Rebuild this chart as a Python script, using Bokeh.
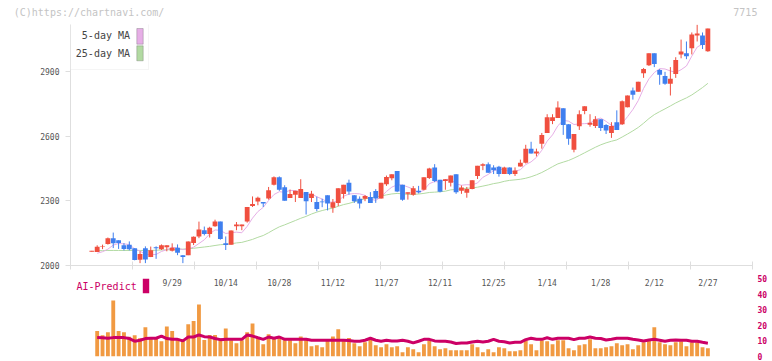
from bokeh.plotting import figure
from bokeh.models import (Range1d, FixedTicker, Label, BoxAnnotation,
                          ColumnDataSource, LinearAxis)
from bokeh.layouts import column
from bokeh.embed import file_html
from bokeh.resources import INLINE

# ---------------- data ----------------
open_ = [2064, 2063, 2088, 2100, 2127, 2117, 2094, 2097, 2080, 2027,
         2080, 2039, 2085, 2076, 2085, 2068, 2083, 2048, 2048, 2104,
         2135, 2164, 2146, 2182, 2204, 2103, 2097, 2182, 2182, 2204,
         2277, 2297, 2295, 2311, 2375, 2410, 2364, 2314, 2329, 2314,
         2341, 2314, 2295, 2298, 2326, 2268, 2291, 2332, 2384, 2327,
         2310, 2310, 2318, 2346, 2311, 2378, 2405, 2439, 2375, 2334,
         2329, 2347, 2352, 2407, 2456, 2398, 2393, 2384, 2424, 2347,
         2338, 2356, 2416, 2463, 2471, 2456, 2459, 2425, 2456, 2425,
         2460, 2478, 2543, 2521, 2566, 2616, 2671, 2686, 2731, 2657,
         2538, 2647, 2718, 2654, 2648, 2680, 2653, 2616, 2666, 2657,
         2735, 2813, 2808, 2894, 2931, 2986, 2909, 2881, 2845, 2890,
         2981, 2986, 3010, 3069, 3069, 2996]
high = [2068, 2094, 2097, 2130, 2153, 2117, 2104, 2112, 2080, 2066,
        2089, 2088, 2089, 2098, 2094, 2103, 2098, 2048, 2112, 2135,
        2204, 2181, 2180, 2213, 2204, 2135, 2163, 2202, 2190, 2272,
        2321, 2320, 2295, 2365, 2414, 2414, 2373, 2353, 2347, 2401,
        2341, 2347, 2320, 2310, 2326, 2309, 2359, 2375, 2399, 2327,
        2321, 2327, 2341, 2355, 2384, 2418, 2424, 2439, 2375, 2340,
        2369, 2370, 2410, 2454, 2471, 2398, 2401, 2418, 2424, 2372,
        2365, 2396, 2463, 2475, 2479, 2466, 2463, 2459, 2456, 2456,
        2492, 2561, 2575, 2543, 2616, 2703, 2703, 2763, 2731, 2657,
        2611, 2721, 2740, 2703, 2694, 2680, 2657, 2666, 2721, 2767,
        2790, 2827, 2854, 2918, 2986, 2986, 2913, 2900, 2922, 2968,
        3050, 3041, 3083, 3119, 3083, 3101]
low = [2064, 2063, 2076, 2097, 2081, 2077, 2070, 2070, 2024, 2011,
       2011, 2039, 2031, 2072, 2066, 2065, 2048, 2011, 2048, 2095,
       2127, 2140, 2130, 2180, 2120, 2072, 2097, 2164, 2164, 2199,
       2272, 2280, 2272, 2306, 2372, 2347, 2301, 2314, 2295, 2314,
       2237, 2295, 2252, 2271, 2256, 2245, 2276, 2311, 2329, 2291,
       2265, 2299, 2291, 2291, 2311, 2370, 2396, 2341, 2301, 2306,
       2324, 2335, 2349, 2402, 2387, 2340, 2352, 2367, 2333, 2333,
       2315, 2354, 2402, 2443, 2431, 2425, 2413, 2425, 2420, 2416,
       2460, 2474, 2520, 2507, 2543, 2616, 2657, 2686, 2607, 2561,
       2526, 2630, 2703, 2645, 2639, 2625, 2611, 2593, 2630, 2653,
       2735, 2771, 2808, 2872, 2927, 2922, 2840, 2840, 2790, 2872,
       2963, 2959, 2981, 3041, 3006, 2993]
close = [2068, 2087, 2091, 2127, 2103, 2104, 2077, 2076, 2025, 2053,
         2028, 2071, 2080, 2094, 2094, 2082, 2059, 2039, 2112, 2134,
         2167, 2146, 2176, 2204, 2123, 2095, 2163, 2190, 2190, 2272,
         2286, 2315, 2288, 2350, 2410, 2352, 2301, 2332, 2347, 2355,
         2299, 2333, 2263, 2294, 2288, 2294, 2359, 2375, 2344, 2299,
         2288, 2323, 2291, 2311, 2384, 2411, 2424, 2344, 2306, 2340,
         2359, 2340, 2410, 2451, 2393, 2343, 2401, 2418, 2340, 2363,
         2356, 2396, 2463, 2471, 2431, 2443, 2425, 2456, 2425, 2442,
         2478, 2543, 2520, 2530, 2607, 2689, 2689, 2734, 2653, 2589,
         2611, 2703, 2740, 2663, 2680, 2639, 2627, 2648, 2630, 2763,
         2790, 2794, 2854, 2913, 2986, 2936, 2886, 2845, 2868, 2955,
         2995, 2973, 3074, 3078, 3025, 3101]

# 5-day and 25-day moving averages (from the 2nd session on)
ma5 = [2057, 2064, 2076, 2094.8, 2102.4, 2100.4, 2097.4, 2077.0, 2067.0, 2051.8,
       2050.6, 2051.4, 2065.2, 2073.4, 2084.2, 2081.8, 2073.6, 2077.2, 2085.2, 2102.2,
       2119.6, 2147.0, 2165.4, 2163.2, 2148.8, 2152.2, 2155.0, 2152.2, 2182.0, 2220.2,
       2250.6, 2270.2, 2302.2, 2329.8, 2343.0, 2340.2, 2349.0, 2348.4, 2337.4, 2326.8,
       2333.2, 2319.4, 2308.8, 2295.4, 2294.4, 2299.6, 2322.0, 2332.0, 2334.2, 2333.0,
       2325.8, 2309.0, 2302.4, 2319.4, 2344.0, 2364.2, 2374.8, 2373.8, 2365.0, 2354.6,
       2337.8, 2351.0, 2380.0, 2390.6, 2387.4, 2399.6, 2401.2, 2379.0, 2373.0, 2375.6,
       2374.6, 2383.6, 2409.8, 2423.4, 2440.8, 2446.6, 2445.2, 2436.0, 2438.2, 2445.2,
       2468.8, 2481.6, 2502.6, 2535.6, 2577.8, 2607.0, 2649.8, 2674.4, 2670.8, 2655.2,
       2658.0, 2659.2, 2661.2, 2679.4, 2685.0, 2669.8, 2651.4, 2644.8, 2661.4, 2691.6,
       2725.0, 2766.2, 2822.8, 2867.4, 2896.6, 2915.0, 2913.2, 2904.2, 2898.0, 2909.8,
       2927.2, 2973.0, 3015.0, 3029.0, 3050.2]
ma25 = [2069, 2069, 2070, 2070, 2070, 2070, 2070, 2070, 2070, 2070,
        2070, 2071, 2072, 2073, 2074, 2075, 2076, 2078, 2080, 2083,
        2086, 2089, 2093, 2096.7, 2097.9, 2100.9, 2104.9, 2107.4, 2114.2, 2121.4,
        2131.0, 2139.4, 2152.4, 2166.7, 2179.7, 2188.9, 2199.0, 2209.1, 2219.5, 2228.2,
        2239.2, 2248.1, 2255.4, 2261.6, 2266.6, 2275.2, 2283.1, 2288.7, 2295.8, 2303.5,
        2309.9, 2313.9, 2318.8, 2323.2, 2328.2, 2332.6, 2334.8, 2333.1, 2330.3, 2330.6,
        2332.1, 2335.2, 2339.4, 2340.9, 2342.7, 2345.4, 2351.6, 2353.4, 2356.4, 2358.9,
        2360.4, 2363.9, 2369.0, 2374.3, 2380.5, 2384.6, 2391.2, 2395.7, 2398.0, 2400.7,
        2405.5, 2412.5, 2421.5, 2432.2, 2445.4, 2459.3, 2472.3, 2480.4, 2488.2, 2498.9,
        2511.0, 2523.9, 2536.8, 2549.5, 2560.8, 2570.0, 2577.4, 2583.8, 2597.1, 2611.0,
        2625.7, 2641.6, 2661.2, 2682.9, 2701.2, 2715.0, 2728.0, 2741.5, 2755.4, 2767.6,
        2779.0, 2792.6, 2809.6, 2827.0, 2846.6]

# volume-like bars and AI-Predict line (lower panel, from the 2nd session on)
vol = [16.3, 13.6, 15.5, 35.9, 16.3, 15.5, 12.7, 13.6, 11.7, 18.7,
       11.7, 11.7, 9.7, 19.3, 16.3, 11.7, 10.8, 20.6, 22.7, 33.3,
       10.6, 13.8, 13.8, 11.7, 18.0, 10.4, 8.5, 10.4, 15.5, 21.2,
       12.1, 7.8, 14.2, 11.5, 12.9, 10.4, 10.4, 8.5, 12.9, 11.0,
       6.6, 7.2, 5.9, 9.9, 12.9, 17.4, 10.4, 11.8, 8.5, 6.6,
       9.1, 11.7, 7.2, 5.9, 7.8, 5.9, 6.6, 2.7, 5.9, 4.6,
       2.7, 7.8, 10.4, 6.6, 4.6, 5.3, 4.0, 4.0, 4.0, 4.0,
       7.8, 5.9, 2.7, 4.6, 2.7, 5.9, 5.3, 3.4, 3.4, 4.0,
       10.4, 7.8, 4.0, 10.4, 9.7, 7.8, 10.4, 10.4, 5.3, 4.0,
       7.2, 7.8, 11.0, 5.3, 5.3, 5.9, 6.6, 8.5, 7.2, 7.8,
       4.6, 7.2, 9.1, 10.4, 18.7, 9.1, 7.8, 7.2, 9.1, 9.7,
       6.6, 9.1, 9.1, 5.9, 5.3]
ai = [12.1, 12.0, 11.7, 12.1, 12.1, 12.1, 11.5, 9.8, 10.4, 11.5,
      11.7, 11.7, 13.1, 11.5, 11.0, 11.0, 10.0, 12.5, 12.5, 13.8,
      12.7, 12.5, 11.5, 10.8, 11.0, 11.0, 11.0, 11.0, 13.8, 13.1,
      12.0, 11.0, 12.5, 11.7, 12.5, 11.0, 11.0, 11.0, 11.0, 11.0,
      10.4, 10.4, 10.4, 10.4, 10.4, 10.4, 10.4, 10.2, 9.8, 9.8,
      10.4, 11.7, 10.4, 9.8, 10.4, 10.0, 10.0, 10.4, 9.8, 8.7,
      9.8, 11.0, 11.0, 10.0, 9.8, 9.8, 9.3, 8.3, 8.7, 8.7,
      9.3, 9.8, 9.3, 9.8, 11.0, 9.8, 9.5, 8.7, 9.1, 9.1,
      10.8, 11.7, 11.0, 11.0, 12.0, 11.0, 11.7, 11.7, 11.7, 10.8,
      11.7, 11.7, 12.5, 11.7, 11.5, 10.6, 11.0, 11.7, 11.7, 11.7,
      11.0, 10.6, 10.0, 10.6, 11.0, 10.4, 9.8, 10.4, 10.6, 10.4,
      10.4, 9.8, 9.8, 9.1, 8.5]

date_pos = [15, 25, 35, 45, 55, 65, 75, 85, 95, 105, 115]
date_labels = ["9/29", "10/14", "10/28", "11/12", "11/27", "12/11",
               "12/25", "1/14", "1/28", "2/12", "2/27"]
price_ticks = [2000, 2300, 2600, 2900]
vol_ticks = [0, 10, 20, 30, 40, 50]
header_texts = ["(C)https://chartnavi.com/", "7715"]

# ---------------- styling ----------------
FONT = "DejaVu Sans Mono"
RED, BLUE = "#f04f3f", "#3f7fef"
PINK, GREEN = "#e6aee6", "#b2daa2"
AXIS = "#dedede"
MAGENTA = "#cc0066"
ORANGE = "#f19a42"

n = len(close)
idx = list(range(n))
cols = [RED if c >= o else BLUE for o, c in zip(open_, close)]
src = ColumnDataSource(dict(
    x=idx, high=high, low=low,
    top=[max(o, c) for o, c in zip(open_, close)],
    bottom=[min(o, c) for o, c in zip(open_, close)],
    color=cols))
sub_x = list(range(1, n))

X0, X1 = -3.98, 123.33
xr = Range1d(X0, X1)

# frame: x 70..752, y 24..268 (page pixels)
p1 = figure(width=772, height=290, x_range=xr, y_range=Range1d(2000, 3120),
            output_backend="svg", toolbar_location=None,
            min_border_left=70, min_border_right=20, min_border_top=24,
            min_border_bottom=22)
p1.grid.visible = False
p1.outline_line_color = None

p1.line(sub_x, ma25, color=GREEN, line_width=1)
p1.line(sub_x, ma5, color=PINK, line_width=1)
p1.segment(x0="x", y0="low", x1="x", y1="high", line_color="color",
           line_width=1, source=src)
p1.vbar(x="x", width=0.9, top="top", bottom="bottom", fill_color="color",
        line_color=None, source=src)

# y axis
ya = p1.yaxis[0]
ya.ticker = FixedTicker(ticks=price_ticks, minor_ticks=[])
ya.axis_line_color = AXIS
ya.major_tick_line_color = AXIS
ya.major_tick_in = 0
ya.major_tick_out = 5
ya.minor_tick_line_color = None
ya.major_label_standoff = 6
ya.major_label_text_font = FONT
ya.major_label_text_font_size = "8px"
ya.major_label_text_color = "#555555"

# x axis: labels at dates, tick marks at regular grid
eps = 1e-6
grid_ticks = [X0 + eps + k * (X1 - X0 - 2 * eps) / 11 for k in range(12)]
xa = p1.xaxis[0]
xa.ticker = FixedTicker(ticks=date_pos, minor_ticks=grid_ticks)
xa.major_label_overrides = {p: l for p, l in zip(date_pos, date_labels)}
xa.axis_line_color = AXIS
xa.major_tick_line_color = None
xa.major_tick_in = 0
xa.major_tick_out = 0
xa.minor_tick_line_color = AXIS
xa.minor_tick_in = 4
xa.minor_tick_out = 4
xa.major_label_standoff = 9
xa.major_label_text_font = FONT
xa.major_label_text_font_size = "8px"
xa.major_label_text_color = "#555555"

# header texts (copyright line at left, code at right) on an axis above
hdr_pos = [-0.52, 122.0]
top_axis = LinearAxis(ticker=FixedTicker(ticks=hdr_pos, minor_ticks=[]),
                      major_label_overrides={p: t for p, t in zip(hdr_pos, header_texts)},
                      axis_line_color=None, major_tick_line_color=None,
                      minor_tick_line_color=None, major_tick_in=0,
                      major_tick_out=0, major_label_standoff=7,
                      major_label_text_font=FONT,
                      major_label_text_font_size="10px",
                      major_label_text_color="#c4c4c4")
p1.add_layout(top_axis, "above")

# legend (text left, swatch right)
p1.add_layout(BoxAnnotation(left=0, right=78, top=244, bottom=196,
                            left_units="screen", right_units="screen",
                            top_units="screen", bottom_units="screen",
                            fill_color="white", fill_alpha=1,
                            line_color="#dddddd", line_width=1))
for txt, yc, sw_top, sw_bot, colr in [("5-day MA", 229.7, 237, 221.3, PINK),
                                      ("25-day MA", 212, 219.7, 204.7, GREEN)]:
    p1.add_layout(Label(x=59.5, y=yc, x_units="screen", y_units="screen",
                        text=txt, text_font=FONT, text_font_size="10px",
                        text_color="#444444", text_align="right",
                        text_baseline="middle"))
    p1.add_layout(BoxAnnotation(left=66.3, right=72.7, top=sw_top, bottom=sw_bot,
                                left_units="screen", right_units="screen",
                                top_units="screen", bottom_units="screen",
                                fill_color=colr, fill_alpha=1,
                                line_color="#555555", line_width=1))

# ---------------- lower panel: frame y 278..356 ----------------
p2 = figure(width=772, height=88, x_range=xr, y_range=Range1d(0, 50),
            x_axis_location=None, y_axis_location="right",
            output_backend="svg", toolbar_location=None,
            min_border_left=70, min_border_right=20, min_border_top=5,
            min_border_bottom=5)
p2.grid.visible = False
p2.outline_line_color = None
p2.background_fill_alpha = 0
p2.border_fill_alpha = 0
p2.vbar(x=sub_x, width=0.72, top=vol, bottom=0, fill_color=ORANGE,
        line_color=None)
p2.line(sub_x, ai, color=MAGENTA, line_width=3)

ra = p2.yaxis[0]
ra.ticker = FixedTicker(ticks=vol_ticks, minor_ticks=[])
ra.axis_line_color = None
ra.major_tick_line_color = None
ra.minor_tick_line_color = None
ra.major_tick_in = 0
ra.major_tick_out = 0
ra.major_label_standoff = 5
ra.major_label_text_font = FONT
ra.major_label_text_font_size = "8px"
ra.major_label_text_font_style = "bold"
ra.major_label_text_color = MAGENTA

p2.add_layout(Label(x=6, y=70, x_units="screen", y_units="screen",
                    text="AI-Predict", text_font=FONT, text_font_size="10px",
                    text_color=MAGENTA, text_align="left",
                    text_baseline="middle"))
p2.add_layout(BoxAnnotation(left=72.3, right=78.7, top=78, bottom=63.3,
                            left_units="screen", right_units="screen",
                            top_units="screen", bottom_units="screen",
                            fill_color=MAGENTA, fill_alpha=1, line_color=None))
p2.margin = (-17, 0, 0, 0)

layout = column(p1, p2, spacing=0)
open("out.html", "w").write(file_html(layout, INLINE))
